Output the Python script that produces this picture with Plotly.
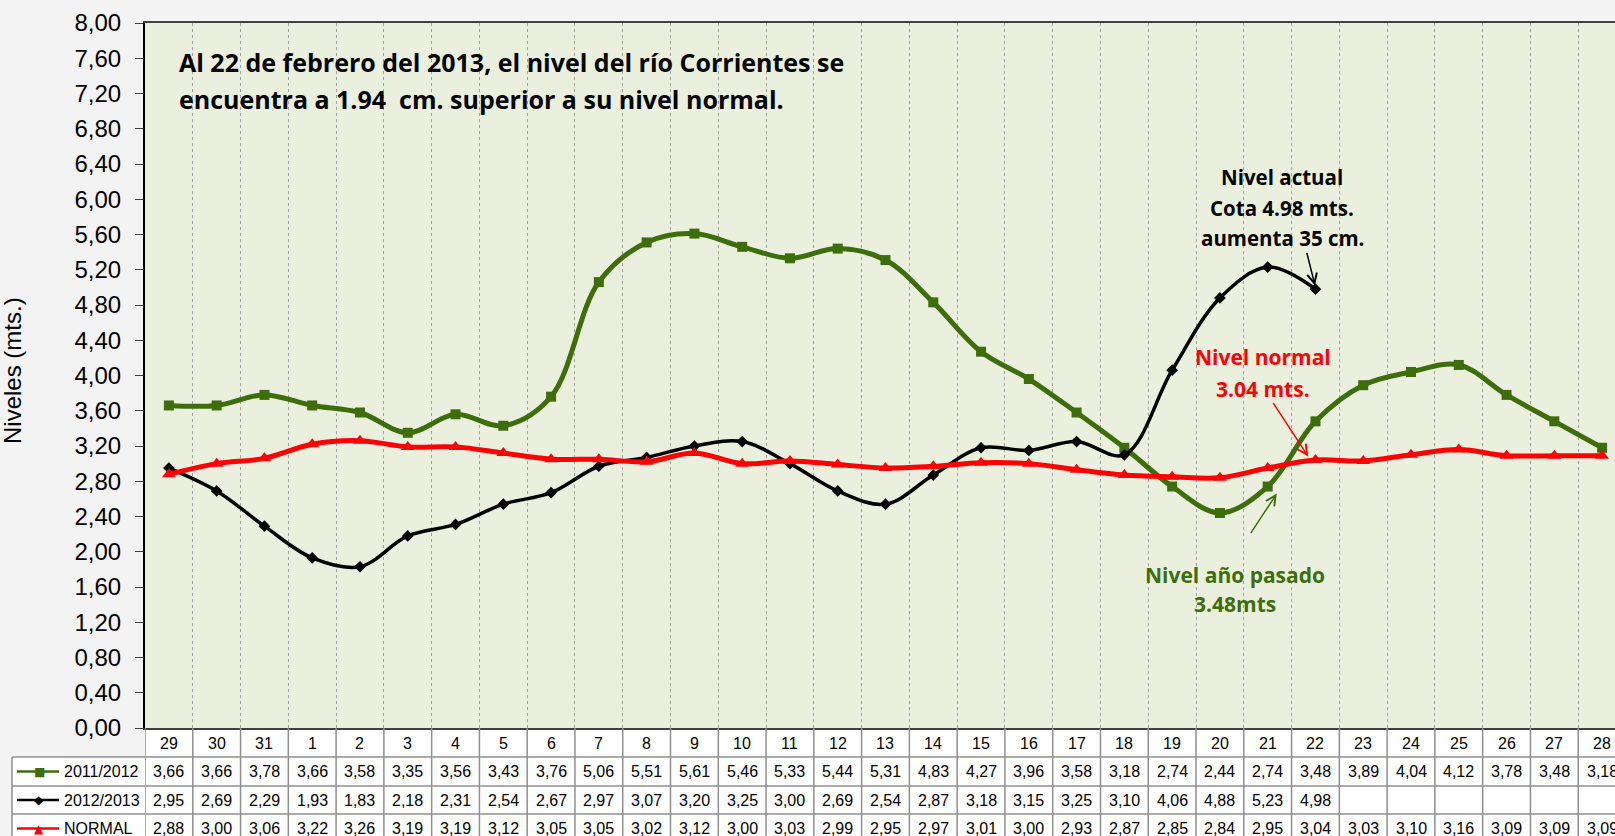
import plotly.graph_objects as go

# ---------------- data ----------------
days = ["29", "30", "31", "1", "2", "3", "4", "5", "6", "7", "8", "9", "10", "11", "12",
        "13", "14", "15", "16", "17", "18", "19", "20", "21", "22", "23", "24", "25",
        "26", "27", "28"]
s_2011_2012 = [3.66, 3.66, 3.78, 3.66, 3.58, 3.35, 3.56, 3.43, 3.76, 5.06, 5.51, 5.61, 5.46,
               5.33, 5.44, 5.31, 4.83, 4.27, 3.96, 3.58, 3.18, 2.74, 2.44, 2.74, 3.48, 3.89,
               4.04, 4.12, 3.78, 3.48, 3.18]
s_2012_2013 = [2.95, 2.69, 2.29, 1.93, 1.83, 2.18, 2.31, 2.54, 2.67, 2.97, 3.07, 3.20, 3.25,
               3.00, 2.69, 2.54, 2.87, 3.18, 3.15, 3.25, 3.10, 4.06, 4.88, 5.23, 4.98,
               None, None, None, None, None, None]
s_normal = [2.88, 3.00, 3.06, 3.22, 3.26, 3.19, 3.19, 3.12, 3.05, 3.05, 3.02, 3.12, 3.00,
            3.03, 2.99, 2.95, 2.97, 3.01, 3.00, 2.93, 2.87, 2.85, 2.84, 2.95, 3.04, 3.03,
            3.10, 3.16, 3.09, 3.09, 3.09]
series_names = ["2011/2012", "2012/2013", "NORMAL"]
y_ticks = [round(0.4 * k, 2) for k in range(21)]

# ---------------- layout constants ----------------
W, H = 1615, 836
PL, PR, PT, PB = 145, 1615, 23, 728
GREEN = "#3E6D0C"
BLACK = "#000000"
RED = "#FF0000"
colors = [GREEN, BLACK, RED]
symbols = ["square", "diamond", "triangle-up"]
key_glyphs = ["■", "◆", "▲"]


def xp(px):
    return (px - PL) / (PR - PL)


def yp(py):
    return (PB - py) / (PB - PT)


xidx = list(range(len(days)))
fig = go.Figure()
all_series = [s_2011_2012, s_2012_2013, s_normal]
widths = [5, 3.5, 5]
msizes = [10, 9, 12]
for vals, name, c, sym, lw, ms in zip(all_series, series_names, colors, symbols, widths, msizes):
    fig.add_trace(go.Scatter(
        x=xidx, y=vals, name=name, mode="lines+markers",
        line=dict(color=c, width=lw, shape="spline", smoothing=1.0),
        marker=dict(symbol=sym, size=ms, color=c),
        connectgaps=False, showlegend=False, cliponaxis=False,
    ))

shapes = []
annotations = []

# table backgrounds (white cells)
shapes.append(dict(type="rect", xref="paper", yref="paper", x0=0, x1=1.02,
                   y0=yp(757), y1=0, fillcolor="white", line=dict(width=0), layer="below"))
shapes.append(dict(type="rect", xref="paper", yref="paper", x0=xp(12), x1=1.02,
                   y0=yp(870), y1=yp(757), fillcolor="white", line=dict(width=0), layer="below"))

GRID_C = "#8f8f8f"
# vertical table borders
for i in range(len(days) + 1):
    shapes.append(dict(type="line", xref="x", yref="paper", x0=i - 0.5, x1=i - 0.5,
                       y0=0, y1=yp(870), line=dict(color=GRID_C, width=1.5)))
shapes.append(dict(type="line", xref="paper", yref="paper", x0=xp(12), x1=xp(12),
                   y0=yp(757), y1=yp(870), line=dict(color=GRID_C, width=1.5)))
# horizontal table borders
for py in (757, 786, 814):
    shapes.append(dict(type="line", xref="paper", yref="paper", x0=xp(12), x1=1.02,
                       y0=yp(py), y1=yp(py), line=dict(color=GRID_C, width=1.5)))

TFONT = dict(family="Liberation Sans, Arial", size=16, color="black")
# header row
for i, d in enumerate(days):
    annotations.append(dict(x=i, y=yp(743), xref="x", yref="paper", text=d,
                            xanchor="center", yanchor="middle",
                            showarrow=False, font=TFONT))
row_y = [771.5, 800, 828.5]
for vals, name, c, g, ry in zip(all_series, series_names, colors, key_glyphs, row_y):
    for i, v in enumerate(vals):
        if v is None:
            continue
        annotations.append(dict(x=i, y=yp(ry), xref="x", yref="paper",
                                xanchor="center", yanchor="middle",
                                text=f"{v:.2f}".replace(".", ","), showarrow=False, font=TFONT))
    annotations.append(dict(x=xp(62), y=yp(ry), xref="paper", yref="paper", text=name,
                            xanchor="left", yanchor="middle", showarrow=False, font=TFONT))
    shapes.append(dict(type="line", xref="paper", yref="paper", x0=xp(17), x1=xp(59),
                       y0=yp(ry), y1=yp(ry), line=dict(color=c, width=2.5)))
    annotations.append(dict(x=xp(39), y=yp(ry), xref="paper", yref="paper", text=g,
                            xanchor="center", yanchor="middle", showarrow=False,
                            font=dict(family="DejaVu Sans", size=12, color=c)))

# y axis title
annotations.append(dict(x=xp(12), y=yp(371), xref="paper", yref="paper", text="Niveles (mts.)",
                        textangle=-90, xanchor="center", yanchor="middle", showarrow=False,
                        font=dict(family="Liberation Sans, Arial", size=24, color="black")))

BF = "Open Sans"
# top text
annotations.append(dict(x=xp(177), y=yp(62), xref="paper", yref="paper", xanchor="left",
                        yanchor="middle",
                        text="<b>Al 22 de febrero del 2013, el nivel del río Corrientes se</b>",
                        showarrow=False, font=dict(family=BF, size=25, color="black")))
annotations.append(dict(x=xp(177), y=yp(99), xref="paper", yref="paper", xanchor="left",
                        yanchor="middle",
                        text="<b>encuentra a 1.94  cm. superior a su nivel normal.</b>",
                        showarrow=False, font=dict(family=BF, size=25, color="black")))

# Nivel actual
for txt, py in (("Nivel actual", 177), ("Cota 4.98 mts.", 208), ("aumenta 35 cm.", 238)):
    annotations.append(dict(x=xp(1282), y=yp(py), xref="paper", yref="paper",
                            xanchor="center", yanchor="middle",
                            text=f"<b>{txt}</b>", showarrow=False,
                            font=dict(family=BF, size=20.5, color="black")))
# Nivel normal
for txt, py in (("Nivel normal", 357), ("3.04 mts.", 389)):
    annotations.append(dict(x=xp(1263), y=yp(py), xref="paper", yref="paper",
                            xanchor="center", yanchor="middle",
                            text=f"<b>{txt}</b>", showarrow=False,
                            font=dict(family=BF, size=21, color=RED)))
# Nivel año pasado
for txt, py in (("Nivel año pasado", 575), ("3.48mts", 604)):
    annotations.append(dict(x=xp(1235), y=yp(py), xref="paper", yref="paper",
                            xanchor="center", yanchor="middle",
                            text=f"<b>{txt}</b>", showarrow=False,
                            font=dict(family=BF, size=21, color=GREEN)))

# arrows
annotations.append(dict(x=24, y=s_2012_2013[24] + 0.02, xref="x", yref="y", text="",
                        showarrow=True, arrowhead=5, arrowsize=1.3, arrowwidth=1.5,
                        arrowcolor="black", ax=-9, ay=-36, standoff=2))
annotations.append(dict(x=23.85, y=s_normal[24] + 0.04, xref="x", yref="y", text="",
                        showarrow=True, arrowhead=5, arrowsize=1.3, arrowwidth=1.5,
                        arrowcolor=RED, ax=-36, ay=-55))
annotations.append(dict(x=23.19, y=2.66, xref="x", yref="y", text="",
                        showarrow=True, arrowhead=5, arrowsize=1.3, arrowwidth=1.5,
                        arrowcolor=GREEN, ax=-27, ay=41))

fig.update_layout(
    width=W, height=H,
    margin=dict(l=PL, r=W - PR, t=PT, b=H - PB, pad=0),
    paper_bgcolor="#f3f3f3",
    plot_bgcolor="#EBF0DE",
    separators=",.",
    shapes=shapes,
    annotations=annotations,
    xaxis=dict(range=[-0.5, 30.27], tickmode="array",
               tickvals=[i + 0.5 for i in range(len(days))],
               showticklabels=False, ticks="", showgrid=True,
               gridcolor="#a0a0a0", gridwidth=1, griddash="dot",
               showline=True, linecolor="#404040", linewidth=2, mirror=True,
               zeroline=False, fixedrange=True),
    yaxis=dict(range=[0, 8], tickmode="array", tickvals=y_ticks, tickformat=".2f",
               ticks="outside", ticklen=8, tickcolor="#404040", tickwidth=1,
               showgrid=False, zeroline=False,
               showline=True, linecolor="black", linewidth=2,
               tickfont=dict(family="Liberation Sans, Arial", size=24, color="black"),
               ticklabelstandoff=9, fixedrange=True),
)

fig.write_html("out.html", config={"displayModeBar": False},
               post_script="document.body.style.margin='0';document.body.style.overflow='hidden';")
